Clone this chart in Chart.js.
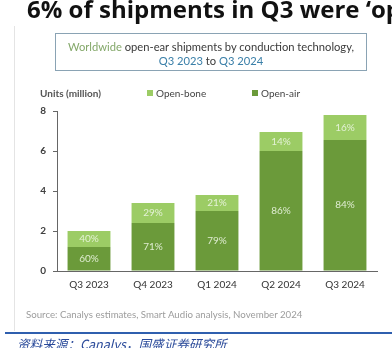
<!DOCTYPE html>
<html>
<head>
<meta charset="utf-8">
<script src="https://cdn.jsdelivr.net/npm/chart.js@4.4.1/dist/chart.umd.min.js"></script>
<style>
  html, body { margin: 0; padding: 0; background: #ffffff; }
  #wrap { position: relative; width: 392px; height: 348px; overflow: hidden; background: #fff; }
  #c { position: absolute; left: 0; top: 0; }
  .abs { position: absolute; white-space: nowrap; }
  #bigtitle { left: 27px; top: -8px; font-family: "Open Sans", sans-serif; font-weight: 700; font-size: 24px; color: #111; }
  #edge { left: 14px; top: 26px; width: 1px; height: 305px; background: #e4e4e4; }
  #box { left: 55px; top: 33px; width: 312px; height: 38px; border: 1px solid #8aa3b4; box-sizing: border-box; }
  #sub1, #sub2 { left: 55px; width: 312px; text-align: center; font-family: Lato, sans-serif; font-size: 11.2px; color: #3a3a3a; }
  #sub1 { top: 40px; }
  #sub2 { top: 54px; }
  .gw { color: #84a86a; }
  .bl { color: #3a7fa8; }
  #units { left: 40px; top: 87px; font-family: Lato, sans-serif; font-size: 10px; font-weight: 700; color: #555; }
  .leg { top: 87px; font-family: Lato, sans-serif; font-size: 10px; color: #444; }
  .sw { display: inline-block; width: 6px; height: 6px; margin-right: 3px; vertical-align: 1px; }
  #source { left: 26px; top: 308px; font-family: Lato, sans-serif; font-size: 9.7px; color: #9c9c9c; }
  #rule { left: 5px; top: 332px; width: 387px; height: 1.5px; background: #2f5fae; }
  #cn { left: 17px; top: 334px; font-family: "Noto Sans CJK SC", sans-serif; font-style: italic; font-size: 12.6px; color: #2a4a9a; }
</style>
</head>
<body>
<div id="wrap">
  <canvas id="c" width="392" height="348"></canvas>
  <div class="abs" id="bigtitle">6% of shipments in Q3 were ‘op</div>
  <div class="abs" id="edge"></div>
  <div class="abs" id="box"></div>
  <div class="abs" id="sub1"><span class="gw">Worldwide</span> open-ear shipments by conduction technology,</div>
  <div class="abs" id="sub2"><span class="bl">Q3 2023</span> to <span class="bl">Q3 2024</span></div>
  <div class="abs" id="units">Units (million)</div>
  <div class="abs leg" id="leg1" style="left:147px"><span class="sw" style="background:#9ccc65"></span>Open-bone</div>
  <div class="abs leg" id="leg2" style="left:252px"><span class="sw" style="background:#6b9a3a"></span>Open-air</div>
  <div class="abs" id="source">Source: Canalys estimates, Smart Audio analysis, November 2024</div>
  <div class="abs" id="rule"></div>
  <div class="abs" id="cn">资料来源：Canalys，国盛证券研究所</div>
</div>
<script>
const categories = ["Q3 2023", "Q4 2023", "Q1 2024", "Q2 2024", "Q3 2024"];
const openAir = [1.2, 2.4, 3.0, 6.0, 6.55];
const openBone = [0.8, 1.0, 0.8, 0.95, 1.25];
const openAirPct = ["60%", "71%", "79%", "86%", "84%"];
const openBonePct = ["40%", "29%", "21%", "14%", "16%"];
const yTicks = [0, 2, 4, 6, 8];

const pctLabels = [openAirPct, openBonePct];

const segLabelPlugin = {
  id: 'segLabels',
  afterDatasetsDraw(chart) {
    const ctx = chart.ctx;
    ctx.save();
    ctx.font = '10px Lato, sans-serif';
    ctx.fillStyle = 'rgba(235,245,225,0.9)';
    ctx.textAlign = 'center';
    ctx.textBaseline = 'middle';
    chart.data.datasets.forEach((ds, di) => {
      const meta = chart.getDatasetMeta(di);
      meta.data.forEach((bar, i) => {
        const p = bar.getProps(['x', 'y', 'base'], true);
        ctx.fillText(pctLabels[di][i], p.x, (p.y + p.base) / 2);
      });
    });
    ctx.restore();
  }
};

new Chart(document.getElementById('c'), {
  type: 'bar',
  data: {
    labels: categories,
    datasets: [
      { label: 'Open-air', data: openAir, backgroundColor: '#6b9a3a', borderWidth: 0 },
      { label: 'Open-bone', data: openBone, backgroundColor: '#9ccc65', borderWidth: 0 }
    ]
  },
  options: {
    responsive: false,
    animation: false,
    events: [],
    layout: { padding: { left: 0, right: 15, top: 111, bottom: 52 } },
    plugins: { legend: { display: false }, tooltip: { enabled: false } },
    datasets: { bar: { categoryPercentage: 1.0, barPercentage: 0.67 } },
    scales: {
      x: {
        stacked: true,
        grid: { display: false, drawTicks: false },
        border: { display: true, color: '#666', width: 1 },
        ticks: { color: '#333', font: { family: 'Lato', size: 10 }, padding: 8, maxRotation: 0 },
        afterFit: (s) => { s.height = 25; }
      },
      y: {
        stacked: true,
        min: 0, max: 8,
        afterBuildTicks: (s) => { s.ticks = yTicks.map(v => ({ value: v })); },
        grid: { display: true, drawOnChartArea: false, drawTicks: true, tickLength: 4, color: '#666' },
        border: { display: true, color: '#666', width: 1 },
        ticks: { color: '#404040', font: { family: 'Lato', size: 10, weight: 'bold' }, padding: 7 },
        afterFit: (s) => { s.width = 57; }
      }
    }
  },
  plugins: [segLabelPlugin]
});
</script>
</body>
</html>
